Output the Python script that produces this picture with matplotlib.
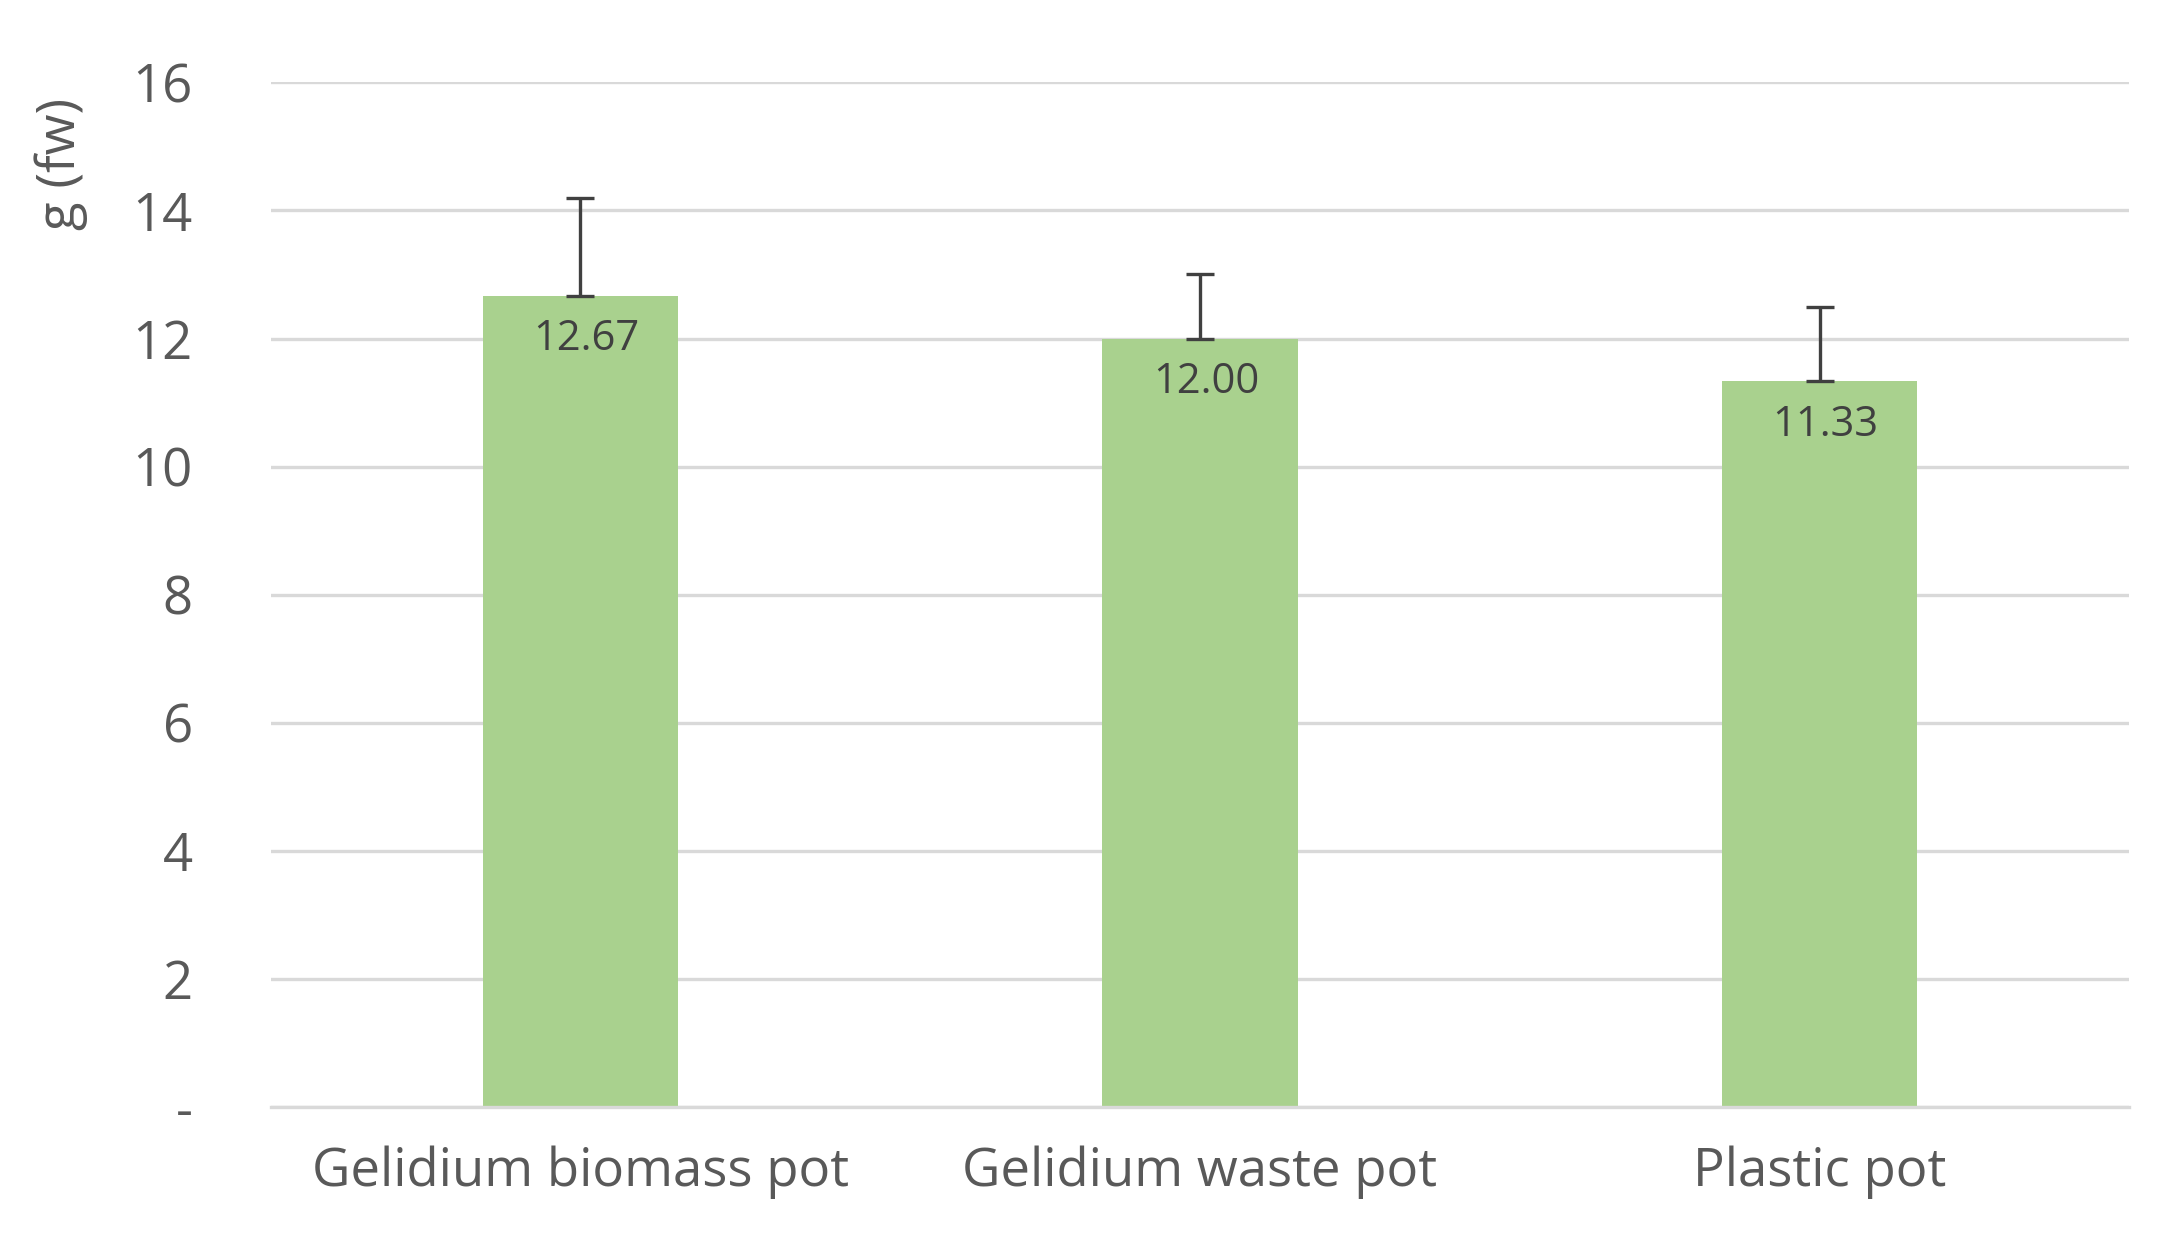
import matplotlib
matplotlib.use("Agg")
import matplotlib.pyplot as plt

categories = ["Gelidium biomass pot", "Gelidium waste pot", "Plastic pot"]
values = [12.67, 12.00, 11.33]
errors = [1.53, 1.00, 1.17]
yticks = [0, 2, 4, 6, 8, 10, 12, 14, 16]
yticklabels = ["-", "2", "4", "6", "8", "10", "12", "14", "16"]

plt.rcParams['font.family'] = ['Open Sans', 'DejaVu Sans']
fig = plt.figure(figsize=(10.82, 6.24), dpi=200)
ax = fig.add_axes([0.125, 0.113, 0.859, 0.821])
x = range(len(categories))
ax.bar(x, values, width=0.315, color="#a9d18e", zorder=2)
ax.errorbar(x, values, yerr=[[0]*3, errors], fmt="none", ecolor="#404040",
            elinewidth=1.2, capsize=5, capthick=1.2, zorder=3)
for xi, v in zip(x, values):
    ax.text(xi + 0.01, v - 0.35, f"{v:.2f}", ha="center", va="top",
            fontsize=15, color="#404040", zorder=4)
ax.set_xlim(-0.5, 2.5)
ax.set_ylim(0, 16)
ax.set_yticks(yticks)
ax.set_yticklabels(yticklabels)
ax.set_xticks(list(x))
ax.set_xticklabels(categories)
ax.grid(axis="y", color="#d9d9d9", linewidth=1.2, zorder=0)
for s in ["top", "right", "left"]:
    ax.spines[s].set_visible(False)
ax.spines["bottom"].set_color("#d9d9d9")
ax.spines["bottom"].set_linewidth(1.2)
ax.tick_params(axis="both", length=0, labelsize=19, colors="#595959")
ax.tick_params(axis="y", pad=28)
ax.tick_params(axis="x", pad=14)
ax.set_ylabel("g (fw)", fontsize=19, color="#595959")
ax.yaxis.set_label_coords(-0.098, 0.92)
fig.savefig("out.png", dpi=200)
